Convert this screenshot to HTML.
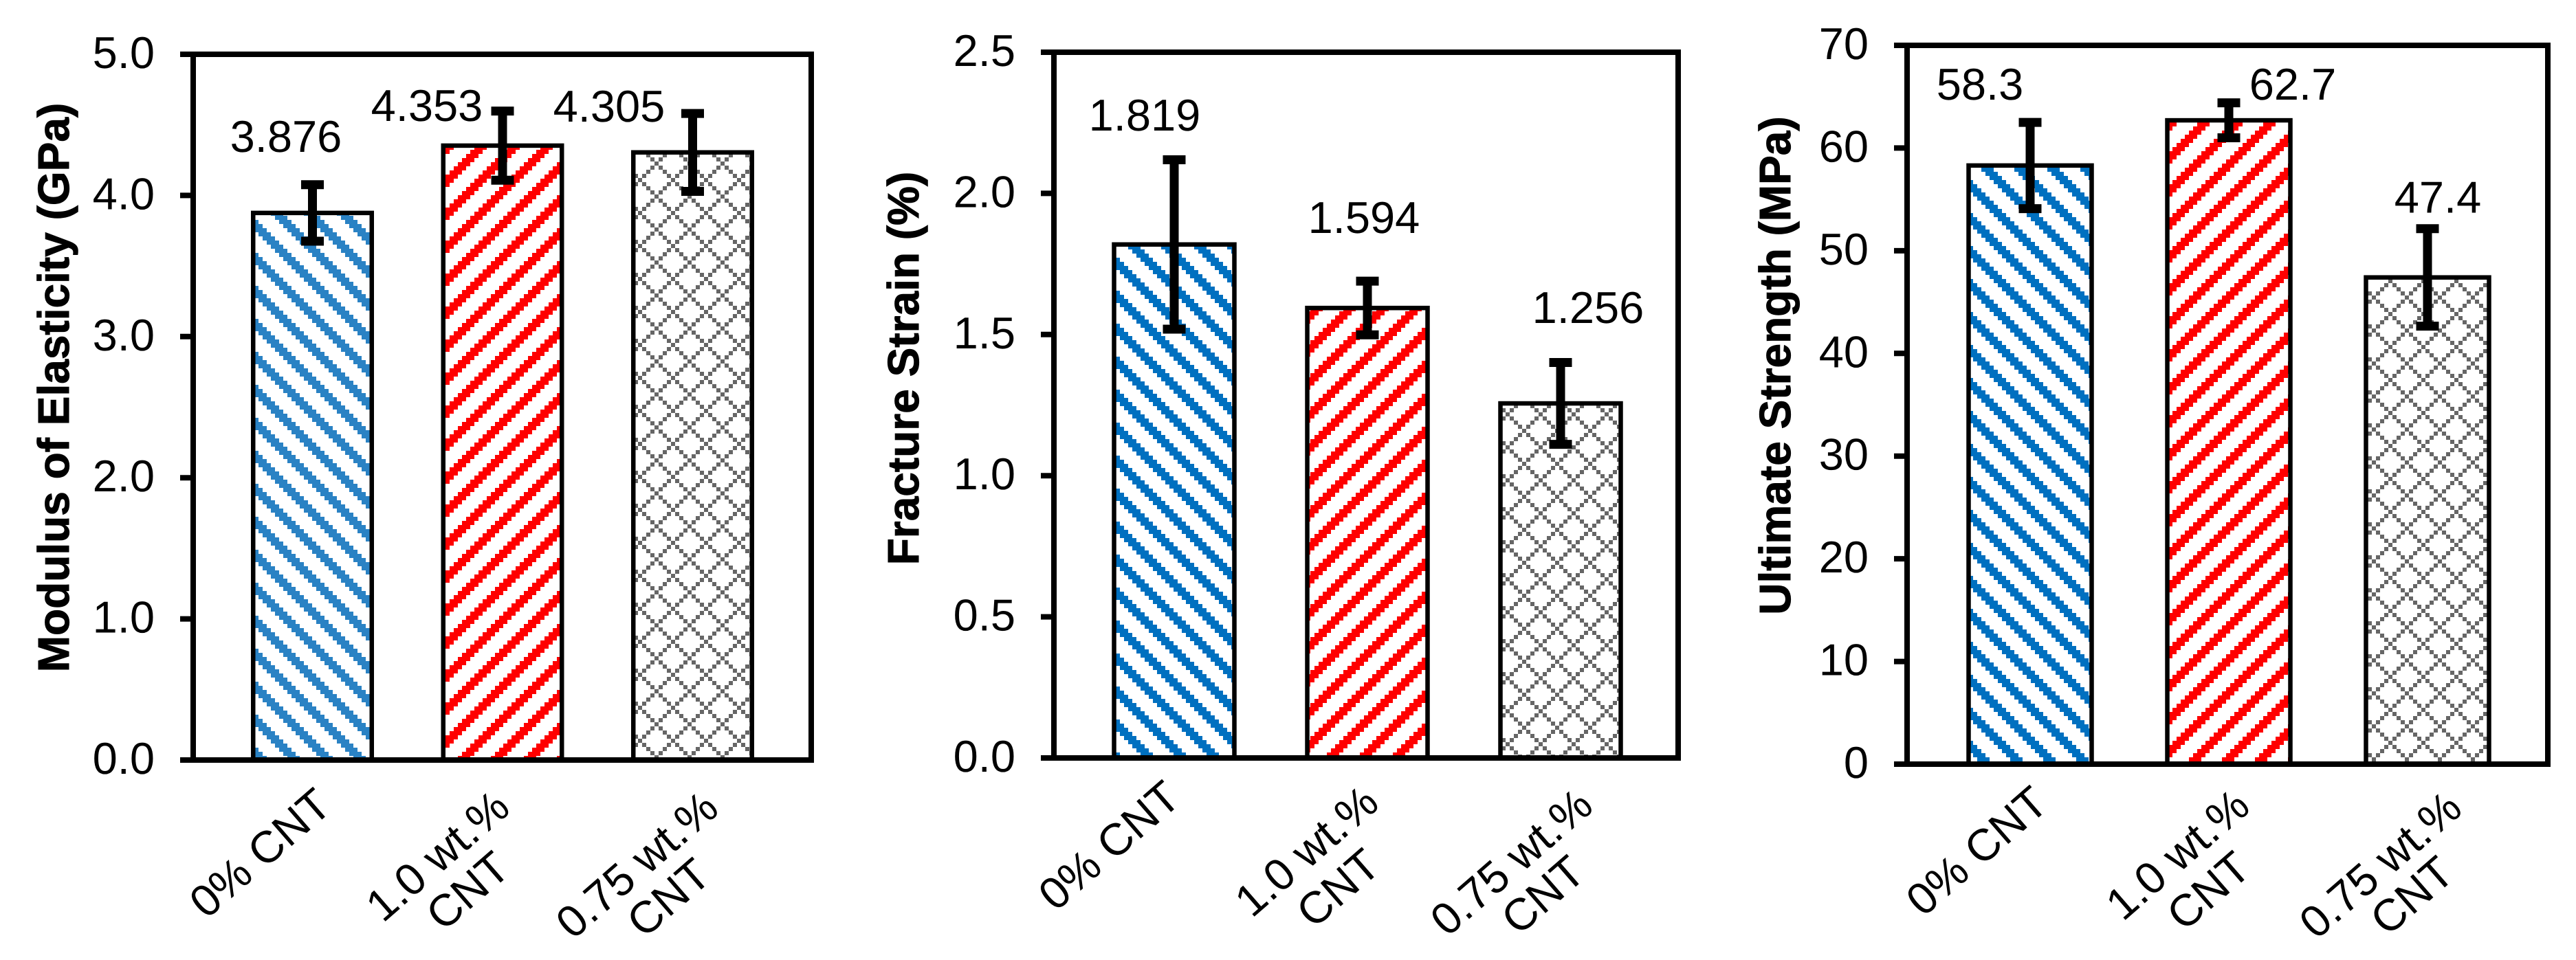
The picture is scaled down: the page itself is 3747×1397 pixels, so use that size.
<!DOCTYPE html>
<html lang="en">
<head>
<meta charset="utf-8">
<title>CNT mechanical properties bar charts</title>
<style>
  html, body { margin: 0; padding: 0; background: #fff; }
  svg { display: block; }
  text { font-family: "Liberation Sans", Arial, sans-serif; fill: #000; text-rendering: geometricPrecision; }
</style>
</head>
<body>
<svg id="figure" xmlns="http://www.w3.org/2000/svg" width="3747" height="1397" viewBox="0 0 3747 1397">
  <rect x="0" y="0" width="3747" height="1397" fill="#ffffff"></rect>
  <defs id="pattern-defs"></defs>
</svg>
<script>
// ---- chart data ----
const categories = [['0% CNT'], ['1.0 wt.%', 'CNT'], ['0.75 wt.%', 'CNT']];

const modulusValues = [3.876, 4.353, 4.305];
const modulusErrors = [0.2, 0.245, 0.276];
const modulusValueLabels = ['3.876', '4.353', '4.305'];
const modulusTicks = [0, 1, 2, 3, 4, 5];
const modulusTickLabels = ['0.0', '1.0', '2.0', '3.0', '4.0', '5.0'];

const strainValues = [1.819, 1.594, 1.256];
const strainErrors = [0.3, 0.095, 0.145];
const strainValueLabels = ['1.819', '1.594', '1.256'];
const strainTicks = [0, 0.5, 1, 1.5, 2, 2.5];
const strainTickLabels = ['0.0', '0.5', '1.0', '1.5', '2.0', '2.5'];

const strengthValues = [58.3, 62.7, 47.4];
const strengthErrors = [4.2, 1.7, 4.75];
const strengthValueLabels = ['58.3', '62.7', '47.4'];
const strengthTicks = [0, 10, 20, 30, 40, 50, 60, 70];
const strengthTickLabels = ['0', '10', '20', '30', '40', '50', '60', '70'];

// ---- layout ----
const NS = 'http://www.w3.org/2000/svg';
const svg = document.getElementById('figure');
const defs = document.getElementById('pattern-defs');

const panels = [
  {
    key: 'modulus', title: 'Modulus of Elasticity (GPa)',
    values: modulusValues, errors: modulusErrors, valueLabels: modulusValueLabels,
    ticks: modulusTicks, tickLabels: modulusTickLabels,
    left: 281, right: 1180, top: 79, bottom: 1106, max: 5,
    firstBar: 454.5, step: 276.5, barWidth: 172.5,
    titleX: 100, titleY: 564,
    blue: '#2A82C4', bluePhase: [370, 320], redPhase: [648, 254], gridPhase: [952, 235],
    labelOffset: [[-38.5, -89], [-110, -36], [-121.5, -45]],
    catPos: [[[378, 1241]], [[636, 1245], [680, 1296]], [[926, 1258], [972, 1306]]]
  },
  {
    key: 'strain', title: 'Fracture Strain (%)',
    values: strainValues, errors: strainErrors, valueLabels: strainValueLabels,
    ticks: strainTicks, tickLabels: strainTickLabels,
    left: 1533, right: 2441, top: 76, bottom: 1103, max: 2.5,
    firstBar: 1708, step: 281, barWidth: 175,
    titleX: 1336, titleY: 536,
    blue: '#0070C0', bluePhase: [1623, 375], redPhase: [1906, 495], gridPhase: [2190, 600],
    labelOffset: [[-43, -166], [-5, -109], [40, -117]],
    catPos: [[[1613, 1230]], [[1900, 1238], [1946, 1292]], [[2198, 1254], [2244, 1302]]]
  },
  {
    key: 'strength', title: 'Ultimate Strength (MPa)',
    values: strengthValues, errors: strengthErrors, valueLabels: strengthValueLabels,
    ticks: strengthTicks, tickLabels: strengthTickLabels,
    left: 2774, right: 3706, top: 66, bottom: 1112, max: 70,
    firstBar: 2953, step: 289, barWidth: 179,
    titleX: 2604, titleY: 532,
    blue: '#0070C0', bluePhase: [2870, 268], redPhase: [3160, 214], gridPhase: [3450, 430],
    labelOffset: [[-73, -96], [93, -30], [15, -94]],
    catPos: [[[2875, 1238]], [[3167, 1243], [3212, 1296]], [[3462, 1258], [3508, 1303]]]
  }
];

const CELL = 6, TILE = 48;

function cellPath(col, row, size) {
  const x = ((col % 8) + 8) % 8 * CELL;
  const y = ((row % 8) + 8) % 8 * CELL;
  return 'M' + x + ' ' + y + 'h' + size + 'v' + size + 'h-' + size + 'z';
}

function makePattern(id, phase, d, color) {
  const pat = document.createElementNS(NS, 'pattern');
  pat.setAttribute('id', id);
  pat.setAttribute('patternUnits', 'userSpaceOnUse');
  pat.setAttribute('width', TILE);
  pat.setAttribute('height', TILE);
  pat.setAttribute('patternTransform', 'translate(' + phase[0] + ' ' + phase[1] + ')');
  
  
  const bg = document.createElementNS(NS, 'rect');
  bg.setAttribute('width', TILE);
  bg.setAttribute('height', TILE);
  bg.setAttribute('fill', '#ffffff');
  pat.appendChild(bg);
  const p = document.createElementNS(NS, 'path');
  p.setAttribute('d', d);
  p.setAttribute('fill', color);
  p.setAttribute('shape-rendering', 'crispEdges');
  pat.appendChild(p);
  defs.appendChild(pat);
}

function downHatch() {
  let d = '';
  for (let i = 0; i < 8; i++) for (let k = 0; k < 3; k++) d += cellPath(i, i + k, CELL);
  return d;
}
function upHatch() {
  let d = '';
  for (let i = 0; i < 8; i++) for (let k = 0; k < 3; k++) d += cellPath(i, k - i, CELL);
  return d;
}
function gridHatch() {
  let d = '';
  for (let i = 0; i < 8; i++) {
    d += cellPath(i, i, CELL);
    if (i !== 0 && i !== 4) d += cellPath(i, 8 - i, CELL);
  }
  return d;
}

function makeLine(parent, x1, y1, x2, y2, w) {
  const l = document.createElementNS(NS, 'line');
  l.setAttribute('x1', x1);
  l.setAttribute('y1', y1);
  l.setAttribute('x2', x2);
  l.setAttribute('y2', y2);
  l.setAttribute('stroke', '#000000');
  l.setAttribute('stroke-width', w);
  parent.appendChild(l);
  return l;
}

panels.forEach(function (panel) {
  const yScale = function (v) {
    return panel.bottom - (v / panel.max) * (panel.bottom - panel.top);
  };
  const xCenter = function (i) {
    return panel.firstBar + i * panel.step;
  };

  const blueId = panel.key + '-blue';
  const redId = panel.key + '-red';
  const gridId = panel.key + '-grid';
  makePattern(blueId, panel.bluePhase, downHatch(), panel.blue);
  makePattern(redId, panel.redPhase, upHatch(), '#FF0000');
  makePattern(gridId, panel.gridPhase, gridHatch(), '#666666');
  const fills = [blueId, redId, gridId];

  const g = document.createElementNS(NS, 'g');
  
  
  svg.appendChild(g);

  // bars
  panel.values.forEach(function (v, i) {
    const rect = document.createElementNS(NS, 'rect');
    
    
    rect.setAttribute('x', xCenter(i) - panel.barWidth / 2);
    rect.setAttribute('y', yScale(v));
    rect.setAttribute('width', panel.barWidth);
    rect.setAttribute('height', yScale(0) - yScale(v));
    rect.setAttribute('fill', 'url(#' + fills[i] + ')');
    rect.setAttribute('stroke', '#000000');
    rect.setAttribute('stroke-width', 6.5);
    g.appendChild(rect);
  });

  // axes frame
  const frame = document.createElementNS(NS, 'rect');
  
  
  frame.setAttribute('x', panel.left);
  frame.setAttribute('y', panel.top);
  frame.setAttribute('width', panel.right - panel.left);
  frame.setAttribute('height', panel.bottom - panel.top);
  frame.setAttribute('fill', 'none');
  frame.setAttribute('stroke', '#000000');
  frame.setAttribute('stroke-width', 8);
  g.appendChild(frame);

  // ticks and tick labels
  panel.ticks.forEach(function (t, i) {
    const tick = makeLine(g, panel.left - 19, yScale(t), panel.left, yScale(t), 8);
    
    
    const label = document.createElementNS(NS, 'text');
    
    
    label.setAttribute('x', panel.left - 56);
    label.setAttribute('y', yScale(t) + 20);
    label.setAttribute('text-anchor', 'end');
    label.setAttribute('font-size', 65);
    label.textContent = panel.tickLabels[i];
    g.appendChild(label);
  });

  // error bars
  panel.values.forEach(function (v, i) {
    const eg = document.createElementNS(NS, 'g');
    
    
    const cx = xCenter(i);
    const hi = yScale(v + panel.errors[i]);
    const lo = yScale(v - panel.errors[i]);
    makeLine(eg, cx, hi, cx, lo, 13);
    makeLine(eg, cx - 16.5, hi, cx + 16.5, hi, 13);
    makeLine(eg, cx - 16.5, lo, cx + 16.5, lo, 13);
    g.appendChild(eg);
  });

  // value labels: placed relative to the bar top and centre
  panel.valueLabels.forEach(function (txt, i) {
    const label = document.createElementNS(NS, 'text');
    
    
    label.setAttribute('x', xCenter(i) + panel.labelOffset[i][0]);
    label.setAttribute('y', yScale(panel.values[i]) + panel.labelOffset[i][1]);
    label.setAttribute('text-anchor', 'middle');
    label.setAttribute('font-size', 65);
    label.textContent = txt;
    g.appendChild(label);
  });

  // category labels
  categories.forEach(function (lines, i) {
    lines.forEach(function (line, j) {
      const pos = panel.catPos[i][j];
      const label = document.createElementNS(NS, 'text');
      
      
      label.setAttribute('x', pos[0]);
      label.setAttribute('y', pos[1]);
      label.setAttribute('dy', '0.35em');
      label.setAttribute('text-anchor', 'middle');
      label.setAttribute('font-size', 65);
      label.setAttribute('transform', 'rotate(-41 ' + pos[0] + ' ' + pos[1] + ')');
      label.textContent = line;
      g.appendChild(label);
    });
  });

  // y-axis title
  const title = document.createElementNS(NS, 'text');
  
  
  title.setAttribute('x', panel.titleX);
  title.setAttribute('y', panel.titleY);
  title.setAttribute('text-anchor', 'middle');
  title.setAttribute('font-size', 64);
  title.setAttribute('font-weight', 'bold');
  title.setAttribute('stroke', '#000000');
  title.setAttribute('stroke-width', 1);
  title.setAttribute('transform', 'rotate(-90 ' + panel.titleX + ' ' + panel.titleY + ')');
  title.textContent = panel.title;
  g.appendChild(title);
});
</script>
</body>
</html>
